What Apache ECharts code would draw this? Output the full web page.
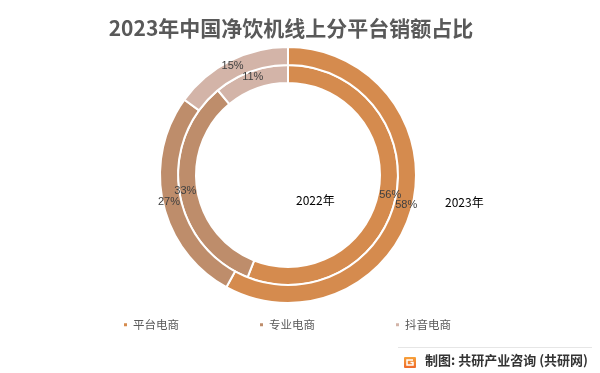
<!DOCTYPE html>
<html>
<head>
<meta charset="utf-8">
<script src="https://cdn.jsdelivr.net/npm/echarts@6/dist/echarts.min.js"></script>
<style>
html,body{margin:0;padding:0;background:#fff;}
#c{width:600px;height:373px;}
</style>
</head>
<body>
<div id="c"></div>
<script>
var categories = ['平台电商', '专业电商', '抖音电商'];
var values2022 = [56, 33, 11];
var values2023 = [58, 27, 15];
var seriesNames = ['2022年', '2023年'];
var colors = ['#D58B4E', '#BE8D6B', '#D3B4A8'];

var chart = echarts.init(document.getElementById('c'), null, {renderer: 'canvas'});

function toData(vals) {
  return categories.map(function (n, i) { return {name: n, value: vals[i]}; });
}

var labelCfg = {
  show: true,
  position: 'inside',
  formatter: '{c}%',
  color: '#404040',
  fontSize: 11,
  fontFamily: 'Liberation Sans, Arial, sans-serif'
};

var option = {
  backgroundColor: '#ffffff',
  color: colors,
  title: {
    text: '2023年中国净饮机线上分平台销额占比',
    left: 286,
    textAlign: 'center',
    top: 13,
    textStyle: {
      color: '#595959',
      fontSize: 21,
      fontWeight: 'bold',
      fontFamily: 'Noto Sans CJK SC'
    }
  },
  legend: {
    data: categories,
    top: 314,
    left: 117,
    icon: 'rect',
    itemWidth: 5,
    itemHeight: 5,
    itemGap: 79,
    textStyle: {color: '#595959', fontSize: 11.5, fontFamily: 'Noto Sans CJK SC'}
  },
  series: [
    {
      name: seriesNames[0],
      type: 'pie',
      center: [288, 175],
      radius: [92, 110],
      startAngle: 90,
      clockwise: true,
      silent: true,
      itemStyle: {borderColor: '#ffffff', borderWidth: 2},
      label: labelCfg,
      labelLine: {show: false},
      labelLayout: {hideOverlap: false},
      data: toData(values2022)
    },
    {
      name: seriesNames[1],
      type: 'pie',
      center: [288, 175],
      radius: [110, 128],
      startAngle: 90,
      clockwise: true,
      silent: true,
      itemStyle: {borderColor: '#ffffff', borderWidth: 2},
      label: labelCfg,
      labelLine: {show: false},
      labelLayout: {hideOverlap: false},
      data: toData(values2023)
    }
  ],
  graphic: [
    {type: 'text', left: 296, top: 194, style: {text: seriesNames[0], fill: '#000', fontSize: 12, fontFamily: 'Noto Sans CJK SC'}},
    {type: 'text', left: 445, top: 196, style: {text: seriesNames[1], fill: '#000', fontSize: 12, fontFamily: 'Noto Sans CJK SC'}},
    {type: 'line', shape: {x1: 398, y1: 347.5, x2: 592, y2: 347.5}, style: {stroke: '#e6e6e6', lineWidth: 1}},
    {type: 'rect', shape: {x: 404, y: 357, width: 12, height: 11, r: 1}, style: {fill: {type: 'linear', x: 0, y: 0, x2: 0, y2: 1, colorStops: [{offset: 0, color: '#F7A23B'}, {offset: 1, color: '#EE6A2A'}]}}},
    {type: 'polyline', shape: {points: [[413, 360], [407, 360], [407, 365], [413, 365], [413, 362.5], [410.5, 362.5]]}, style: {stroke: '#fff', lineWidth: 1.5, fill: null}},
    {type: 'text', left: 425, top: 354, style: {text: '制图: 共研产业咨询 (共研网)', fill: '#333333', fontSize: 13, fontWeight: 'bold', fontFamily: 'Noto Sans CJK SC'}}
  ]
};
chart.setOption(option);
</script>
</body>
</html>
